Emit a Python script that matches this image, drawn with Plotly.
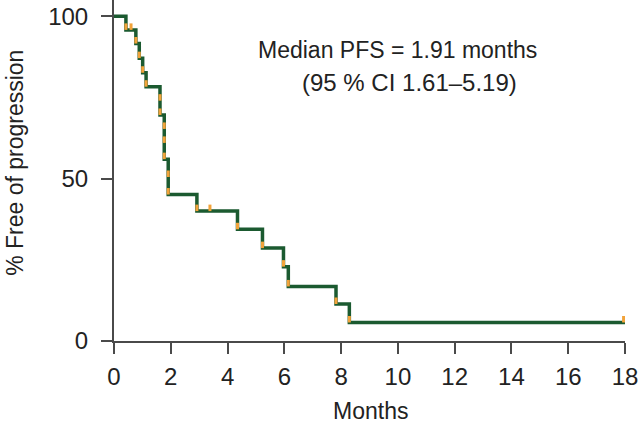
import plotly.graph_objects as go

# Kaplan-Meier data (months, % free of progression)
event_times = [0.42, 0.77, 0.89, 1.01, 1.13, 1.62, 1.62, 1.77, 1.77, 1.77,
               1.91, 1.91, 2.92, 4.35, 5.23, 5.97, 6.14, 7.82, 8.29]
event_levels = [95.8, 91.6, 87.1, 82.6, 78.3, 74.0, 69.6, 65.3, 61.0, 56.0,
                50.5, 45.1, 40.0, 34.4, 28.6, 22.9, 16.8, 11.4, 5.7]
censor_times = [0.6, 3.38, 17.95]
censor_levels = [95.8, 40.0, 5.7]
x_ticks = [0, 2, 4, 6, 8, 10, 12, 14, 16, 18]
y_ticks = [0, 50, 100]
end_time = 18.0

GREEN = "#1b5a30"
ORANGE = "#f2a33a"
AXIS = "#4a4a4a"
FONT = "Liberation Sans, Arial, Helvetica, sans-serif"

# step curve
sx, sy = [0.0], [100.0]
for t, lv in zip(event_times, event_levels):
    if sx[-1] == t:
        sy[-1] = lv
    else:
        sx.append(t)
        sy.append(lv)
sx.append(end_time)
sy.append(sy[-1])

# orange tick marks (at each event level and censor point)
tick_len = 2.0
ox, oy = [], []
for t, lv in list(zip(event_times, event_levels)) + list(zip(censor_times, censor_levels)):
    ox += [t, t, None]
    oy += [lv, lv + tick_len, None]

fig = go.Figure()
fig.add_trace(go.Scatter(x=sx, y=sy, mode="lines", line=dict(color=GREEN, width=3.5, shape="hv"),
                         hoverinfo="skip", showlegend=False, cliponaxis=False))
fig.add_trace(go.Scatter(x=ox, y=oy, mode="lines", line=dict(color=ORANGE, width=3),
                         hoverinfo="skip", showlegend=False, cliponaxis=False))

fig.add_annotation(x=10.0, y=89.6, xref="x", yref="y", text="Median PFS = 1.91 months",
                   showarrow=False, font=dict(family=FONT, size=23, color="#222"),
                   xanchor="center", yanchor="middle")
fig.add_annotation(x=10.42, y=79.6, xref="x", yref="y", text="(95 % CI 1.61–5.19)",
                   showarrow=False, font=dict(family=FONT, size=24, color="#222"),
                   xanchor="center", yanchor="middle")

fig.add_annotation(x=0.501, y=-0.205, xref="paper", yref="paper", text="Months",
                   showarrow=False, font=dict(family=FONT, size=23, color="#222"),
                   xanchor="center", yanchor="middle")
fig.add_annotation(x=-0.194, y=0.522, xref="paper", yref="paper", text="% Free of progression",
                   showarrow=False, textangle=-90, font=dict(family=FONT, size=23, color="#222"),
                   xanchor="center", yanchor="middle")

fig.update_layout(
    width=640, height=426,
    margin=dict(l=114, r=15, t=0, b=85),
    paper_bgcolor="white", plot_bgcolor="white",
    font=dict(family=FONT, size=24, color="#222"),
)
fig.update_xaxes(range=[0, 18], tickvals=x_ticks, ticks="outside", ticklen=11, tickwidth=2,
                 tickcolor=AXIS, showline=True, linecolor=AXIS, linewidth=2,
                 showgrid=False, zeroline=False, tickfont=dict(size=24), ticklabelstandoff=2)
fig.update_yaxes(range=[0, 105], tickvals=y_ticks, ticks="outside", ticklen=11, tickwidth=2,
                 tickcolor=AXIS, showline=True, linecolor=AXIS, linewidth=2,
                 showgrid=False, zeroline=False, tickfont=dict(size=24), ticklabelstandoff=8)

fig.write_html("out.html", config={"displayModeBar": False},
               post_script="document.body.style.margin='0';document.body.style.overflow='hidden';")
